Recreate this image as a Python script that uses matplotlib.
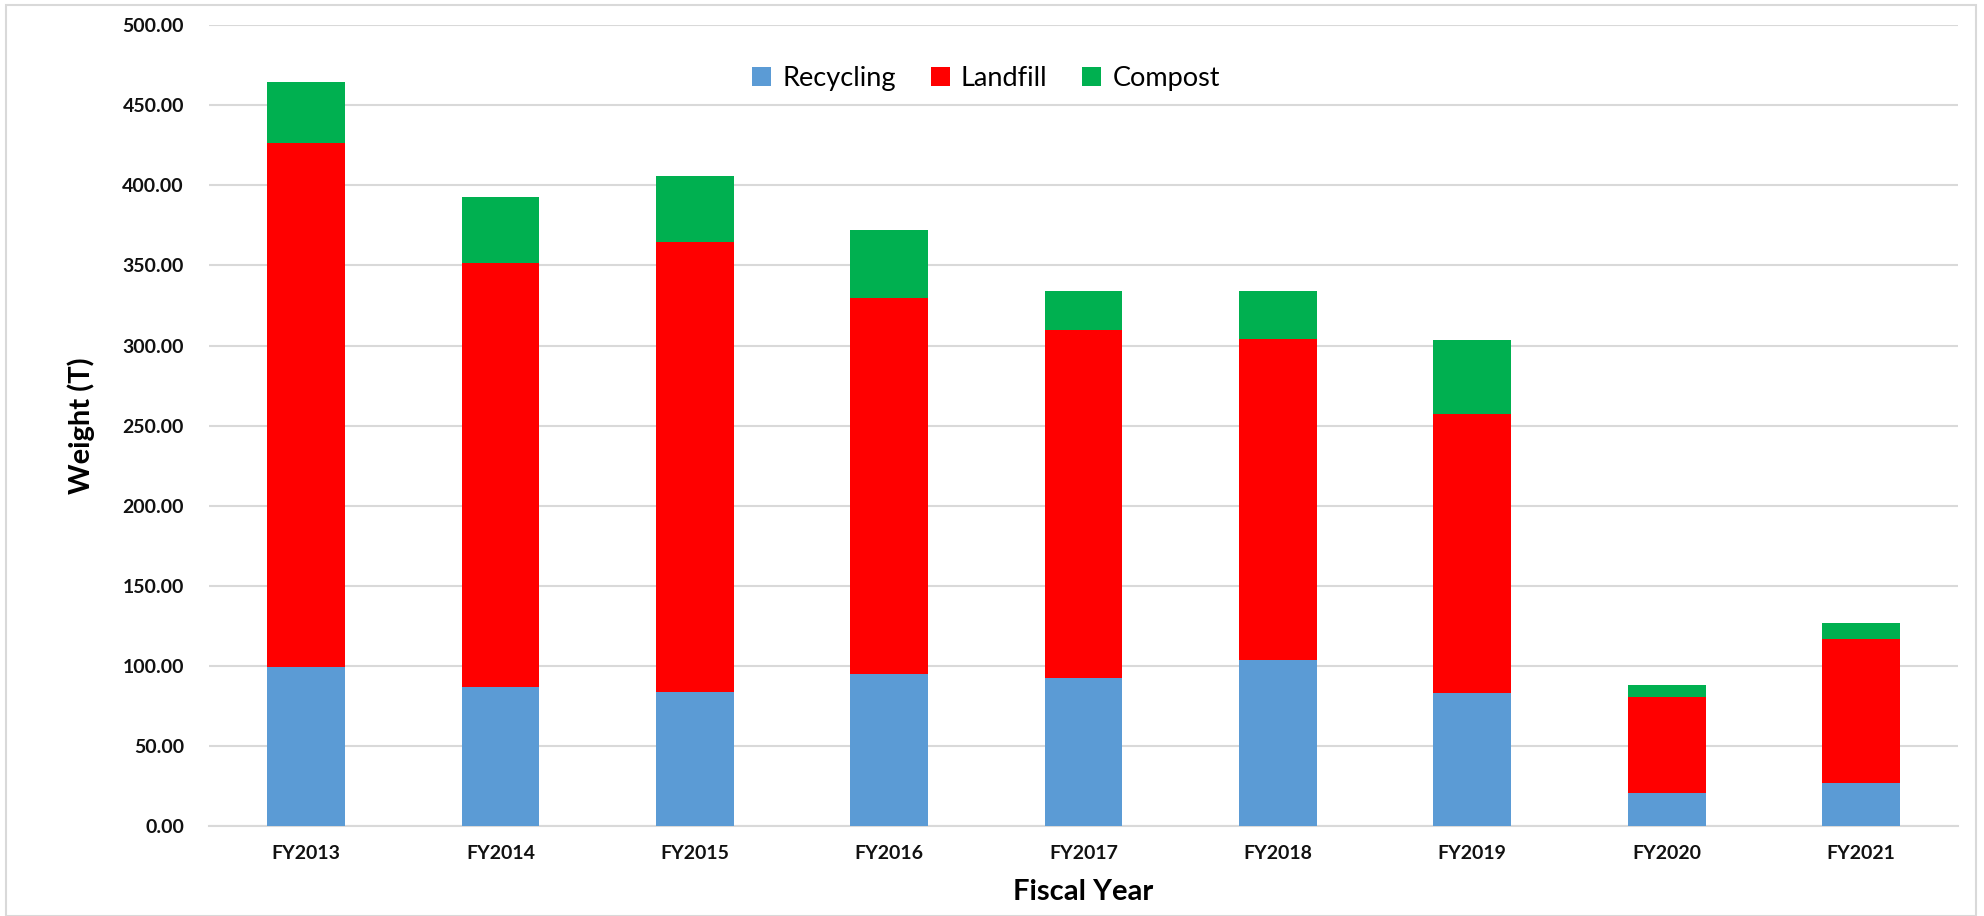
import numpy as np
import matplotlib.pyplot as plt
from matplotlib.patches import Rectangle
from matplotlib.ticker import FormatStrFormatter

# Waste weight by fiscal year (tons), stacked segments
years = ["FY2013", "FY2014", "FY2015", "FY2016", "FY2017", "FY2018", "FY2019", "FY2020", "FY2021"]
recycling = [99.5, 86.9, 83.7, 94.8, 92.4, 103.5, 82.9, 20.4, 27.0]
landfill = [327.0, 264.6, 281.2, 234.6, 217.2, 200.5, 174.6, 59.9, 89.5]
compost = [37.8, 41.1, 41.1, 42.6, 24.5, 30.1, 45.8, 7.5, 10.1]

plt.rcParams['font.family'] = ['Lato', 'DejaVu Sans']

fig = plt.figure(figsize=(19.84, 9.16), dpi=100)
ax = fig.add_axes([0.1053, 0.0983, 0.8817, 0.8741])

x = np.arange(len(years))
rec = np.array(recycling)
lan = np.array(landfill)
com = np.array(compost)

w = 0.4
ax.bar(x, rec, w, color="#5B9BD5", label="Recycling", zorder=3)
ax.bar(x, lan, w, bottom=rec, color="#FF0000", label="Landfill", zorder=3)
ax.bar(x, com, w, bottom=rec + lan, color="#00B050", label="Compost", zorder=3)

ax.set_xlim(-0.5, len(years) - 0.5)
ax.set_ylim(0, 500)
ax.set_yticks(np.arange(0, 501, 50))
ax.yaxis.set_major_formatter(FormatStrFormatter("%.2f"))
ax.set_xticks(x)
ax.set_xticklabels(years)
ax.grid(axis="y", color="#D9D9D9", linewidth=1.5, zorder=0)
for s in ["top", "right", "left"]:
    ax.spines[s].set_visible(False)
ax.spines["bottom"].set_color("#D9D9D9")
ax.spines["bottom"].set_linewidth(1.5)
ax.tick_params(axis="both", length=0, labelsize=14, colors="#111111")
ax.tick_params(axis="y", pad=18)
ax.tick_params(axis="x", pad=14)
for lbl in ax.get_xticklabels() + ax.get_yticklabels():
    lbl.set_fontweight("bold")

ax.set_ylabel("Weight (T)", fontsize=21, fontweight="bold", labelpad=20)
ax.set_xlabel("Fiscal Year", fontsize=21, fontweight="bold", labelpad=12)

fig.legend(loc="upper center", bbox_to_anchor=(0.497, 0.955), ncol=3, frameon=False,
           fontsize=19.5, handlelength=0.7, handleheight=0.7, handletextpad=0.4, columnspacing=1.3)

# light chart border
fig.patches.append(Rectangle((0.003, 0.0), 0.993, 0.995, transform=fig.transFigure,
                             fill=False, edgecolor="#D9D9D9", linewidth=1.5))

fig.savefig("out.png", dpi=100)
